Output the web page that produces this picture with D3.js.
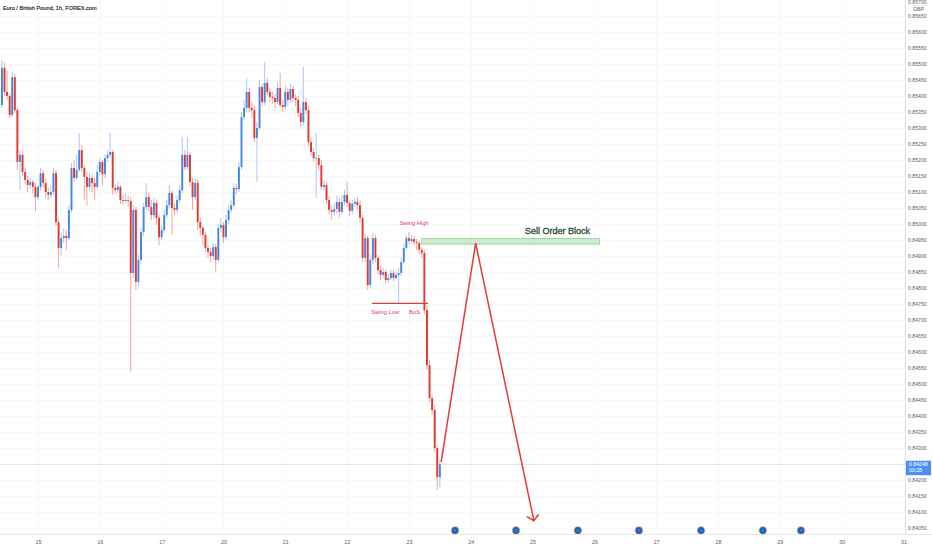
<!DOCTYPE html>
<html>
<head>
<meta charset="utf-8">
<script src="https://cdn.jsdelivr.net/npm/d3@7"></script>
<style>
  body { margin: 0; background: #fff; }
  svg { display: block; font-family: "Liberation Sans", Arial, sans-serif; }
</style>
</head>
<body>
<div id="chart"></div>
<script>
// EUR/GBP 1h candles, one per bar index (open = previous close)
const firstOpen = 0.85371;
const closes = [
  0.85487, 0.85412, 0.85399, 0.85340, 0.85458, 0.85355, 0.85193, 0.85215, 0.85162, 0.85137,
  0.85121, 0.85130, 0.85115, 0.85083, 0.85115, 0.85158, 0.85127, 0.85099, 0.85090, 0.85099,
  0.85158, 0.85005, 0.84924, 0.84955, 0.84962, 0.84955, 0.85043, 0.85174, 0.85143, 0.85168,
  0.85230, 0.85174, 0.85146, 0.85115, 0.85143, 0.85127, 0.85115, 0.85162, 0.85193, 0.85155,
  0.85205, 0.85215, 0.85224, 0.85112, 0.85105, 0.85115, 0.85074, 0.85071, 0.85074, 0.85071,
  0.84846, 0.85043, 0.84818, 0.84887, 0.84974, 0.85052, 0.85083, 0.85052, 0.85027, 0.85065,
  0.85018, 0.84958, 0.84980, 0.85027, 0.85058, 0.85096, 0.85049, 0.85043, 0.85074, 0.85105,
  0.85215, 0.85177, 0.85215, 0.85130, 0.85083, 0.85127, 0.85005, 0.84987, 0.84965, 0.84924,
  0.84912, 0.84899, 0.84927, 0.84887, 0.84987, 0.84996, 0.84958, 0.85012, 0.85043, 0.85058,
  0.85112, 0.85108, 0.85177, 0.85333, 0.85362, 0.85412, 0.85362, 0.85355, 0.85268, 0.85299,
  0.85427, 0.85380, 0.85440, 0.85412, 0.85396, 0.85393, 0.85380, 0.85424, 0.85371, 0.85365,
  0.85412, 0.85387, 0.85421, 0.85393, 0.85387, 0.85346, 0.85318, 0.85380, 0.85355, 0.85255,
  0.85224, 0.85205, 0.85205, 0.85183, 0.85115, 0.85121, 0.85074, 0.85043, 0.85037, 0.85046,
  0.85068, 0.85037, 0.85068, 0.85090, 0.85065, 0.85040, 0.85062, 0.85068, 0.85058, 0.85018,
  0.84893, 0.84955, 0.84808, 0.84887, 0.84955, 0.84893, 0.84855, 0.84840, 0.84849, 0.84824,
  0.84830, 0.84846, 0.84830, 0.84840, 0.84846, 0.84880, 0.84924, 0.84955, 0.84946, 0.84952,
  0.84943, 0.84940, 0.84918, 0.84908, 0.84730, 0.84558, 0.84455, 0.84418, 0.84299, 0.84208,
  0.84248
];
const highs = [
  0.85512, 0.85502, 0.85480, 0.85408, 0.85474, 0.85468, 0.85362, 0.85230, 0.85230, 0.85174,
  0.85149, 0.85143, 0.85137, 0.85127, 0.85121, 0.85174, 0.85168, 0.85143, 0.85112, 0.85118,
  0.85174, 0.85168, 0.85018, 0.84974, 0.84987, 0.84980, 0.85058, 0.85190, 0.85199, 0.85215,
  0.85283, 0.85246, 0.85183, 0.85162, 0.85158, 0.85152, 0.85143, 0.85183, 0.85205, 0.85199,
  0.85215, 0.85230, 0.85283, 0.85230, 0.85124, 0.85130, 0.85121, 0.85090, 0.85096, 0.85087,
  0.85083, 0.85058, 0.85052, 0.84902, 0.84987, 0.85065, 0.85127, 0.85096, 0.85074, 0.85080,
  0.85074, 0.85027, 0.84993, 0.85043, 0.85074, 0.85121, 0.85105, 0.85065, 0.85087, 0.85121,
  0.85271, 0.85230, 0.85271, 0.85224, 0.85143, 0.85143, 0.85137, 0.85018, 0.84993, 0.84974,
  0.84933, 0.84924, 0.84940, 0.84937, 0.84999, 0.85018, 0.85005, 0.85030, 0.85058, 0.85074,
  0.85127, 0.85124, 0.85193, 0.85349, 0.85387, 0.85455, 0.85424, 0.85380, 0.85368, 0.85318,
  0.85449, 0.85437, 0.85505, 0.85455, 0.85424, 0.85412, 0.85405, 0.85443, 0.85471, 0.85387,
  0.85430, 0.85424, 0.85437, 0.85430, 0.85405, 0.85399, 0.85362, 0.85490, 0.85393, 0.85368,
  0.85268, 0.85237, 0.85283, 0.85215, 0.85199, 0.85137, 0.85130, 0.85087, 0.85058, 0.85065,
  0.85087, 0.85080, 0.85090, 0.85105, 0.85130, 0.85074, 0.85074, 0.85080, 0.85083, 0.85074,
  0.85027, 0.84971, 0.84962, 0.84902, 0.84971, 0.84965, 0.84902, 0.84868, 0.84862, 0.84855,
  0.84843, 0.84855, 0.84855, 0.84852, 0.84862, 0.84893, 0.84937, 0.84965, 0.84974, 0.84965,
  0.84962, 0.84952, 0.84946, 0.84924, 0.84918, 0.84746, 0.84574, 0.84465, 0.84433, 0.84308,
  0.84262
];
const lows = [
  0.85362, 0.85402, 0.85387, 0.85330, 0.85333, 0.85346, 0.85168, 0.85105, 0.85149, 0.85124,
  0.85099, 0.85108, 0.85096, 0.85037, 0.85074, 0.85105, 0.85112, 0.85080, 0.85074, 0.85080,
  0.85090, 0.84993, 0.84862, 0.84902, 0.84940, 0.84918, 0.84949, 0.85033, 0.85130, 0.85137,
  0.85162, 0.85162, 0.85074, 0.85058, 0.85105, 0.85099, 0.85074, 0.85105, 0.85152, 0.85121,
  0.85143, 0.85193, 0.85205, 0.85090, 0.85093, 0.85096, 0.85062, 0.85058, 0.85062, 0.85055,
  0.84537, 0.84830, 0.84793, 0.84805, 0.84874, 0.84962, 0.85043, 0.85040, 0.85012, 0.85015,
  0.84996, 0.84933, 0.84949, 0.84971, 0.85018, 0.85049, 0.84965, 0.85027, 0.85033, 0.85065,
  0.85096, 0.85168, 0.85168, 0.85118, 0.85043, 0.85074, 0.84980, 0.84962, 0.84933, 0.84912,
  0.84893, 0.84880, 0.84887, 0.84849, 0.84880, 0.84974, 0.84940, 0.84949, 0.84999, 0.85033,
  0.85052, 0.85093, 0.85099, 0.85168, 0.85324, 0.85349, 0.85349, 0.85330, 0.85255, 0.85130,
  0.85293, 0.85368, 0.85371, 0.85402, 0.85380, 0.85374, 0.85362, 0.85374, 0.85362, 0.85349,
  0.85355, 0.85368, 0.85377, 0.85380, 0.85368, 0.85333, 0.85305, 0.85308, 0.85343, 0.85243,
  0.85212, 0.85193, 0.85080, 0.85168, 0.85105, 0.85105, 0.85062, 0.85030, 0.85012, 0.85024,
  0.85030, 0.85018, 0.85030, 0.85058, 0.85052, 0.85024, 0.85030, 0.85052, 0.85043, 0.85005,
  0.84880, 0.84880, 0.84793, 0.84799, 0.84874, 0.84880, 0.84843, 0.84824, 0.84830, 0.84812,
  0.84815, 0.84824, 0.84821, 0.84827, 0.84752, 0.84837, 0.84874, 0.84918, 0.84937, 0.84940,
  0.84933, 0.84918, 0.84905, 0.84893, 0.84718, 0.84543, 0.84443, 0.84405, 0.84287, 0.84168,
  0.84177
];

// time axis: day labels and the bar index where each day starts
const dayLabels = ['15', '16', '17', '20', '21', '22', '23', '24', '25', '26', '27', '28', '29', '30', '31'];
const dayBars = [14, 38, 62, 86, 110, 134, 158, 182, 206, 230, 254, 278, 302, 326, 350];

// economic event markers (bar index)
const eventBars = [175.9, 199.6, 223.6, 247.3, 271.4, 295.4, 310.2];

// drawings
const obBars = [163, 232];
const obPrices = [0.84954, 0.84936];
const bosBars = [143.7, 165.4];
const bosPrice = 0.84751;
const projBars = [170.5, 183.9, 206.5];
const projPrices = [0.84255, 0.84939, 0.84072];
const lastPrice = 0.84248;
const countdown = '00:28';

const W = 932, H = 550;
const plotRight = 905, plotBottom = 534;

const svg = d3.select('#chart').append('svg')
  .attr('width', W)
  .attr('height', H);

svg.append('rect').attr('width', W).attr('height', H).attr('fill', '#fff');

const x = d3.scaleLinear().domain([0, 350]).range([1.93, 903.5]);
const y = d3.scaleLinear().domain([0.8405, 0.8565]).range([527.7, 15.7]);

const priceTicks = d3.range(84050, 85651, 50).map(d => d / 100000);
const topTick = 0.857;

const plot = svg.append('g');

// faint grid
plot.selectAll('.hgrid')
  .data(priceTicks)
  .enter().append('line')
    .attr('x1', 0).attr('x2', plotRight)
    .attr('y1', d => Math.round(y(d)) + 0.5)
    .attr('y2', d => Math.round(y(d)) + 0.5)
    .attr('stroke', '#f7f8fa');
plot.selectAll('.vgrid')
  .data(dayBars)
  .enter().append('line')
    .attr('x1', d => Math.round(x(d)) + 0.5)
    .attr('x2', d => Math.round(x(d)) + 0.5)
    .attr('y1', 0).attr('y2', plotBottom)
    .attr('stroke', '#f7f8fa');

// last price line
plot.append('line')
  .attr('x1', 0).attr('x2', plotRight)
  .attr('y1', y(lastPrice)).attr('y2', y(lastPrice))
  .attr('stroke', '#dfe3ec')
  .attr('stroke-width', 1);

// order block
plot.append('rect')
  .attr('x', x(obBars[0]))
  .attr('y', y(obPrices[0]))
  .attr('width', x(obBars[1]) - x(obBars[0]))
  .attr('height', y(obPrices[1]) - y(obPrices[0]))
  .attr('fill', '#cfe9d0')
  .attr('stroke', '#8fcf93')
  .attr('stroke-width', 0.8);

plot.append('text')
  .attr('x', x(215.7))
  .attr('y', 234.4)
  .attr('text-anchor', 'middle')
  .attr('font-size', '9px')
  .attr('fill', '#1f4d31')
  .attr('stroke', '#1f4d31')
  .attr('stroke-width', 0.3)
  .text('Sell Order Block');

// candles
const candles = closes.map((c, i) => ({
  i: i,
  o: i === 0 ? firstOpen : closes[i - 1],
  c: c,
  h: highs[i],
  l: lows[i]
}));

const upCol = '#3f86e8', downCol = '#e2382f';

const cg = plot.append('g');
cg.selectAll('.wick')
  .data(candles)
  .enter().append('line')
    .attr('x1', d => x(d.i)).attr('x2', d => x(d.i))
    .attr('y1', d => y(d.h)).attr('y2', d => y(d.l))
    .attr('stroke', d => d.c >= d.o ? upCol : downCol)
    .attr('stroke-opacity', 0.5)
    .attr('stroke-width', 0.9);

cg.selectAll('.body')
  .data(candles)
  .enter().append('rect')
    .attr('x', d => x(d.i) - 0.95)
    .attr('width', 1.9)
    .attr('y', d => y(Math.max(d.o, d.c)))
    .attr('height', d => Math.max(0.7, Math.abs(y(d.o) - y(d.c))))
    .attr('fill', d => d.c >= d.o ? upCol : downCol);

// break of structure line
const red = '#e53935';
plot.append('line')
  .attr('x1', x(bosBars[0])).attr('x2', x(bosBars[1]))
  .attr('y1', y(bosPrice)).attr('y2', y(bosPrice))
  .attr('stroke', red)
  .attr('stroke-width', 1.3);

const pink = '#e8336b';
const labels = [
  { t: 'Swing High', b: 160.0, p: 0.85001 },
  { t: 'Swing Low', b: 148.8, p: 0.84723 },
  { t: 'BoS', b: 160.2, p: 0.84723 }
];
plot.selectAll('.lbl')
  .data(labels)
  .enter().append('text')
    .attr('x', d => x(d.b))
    .attr('y', d => y(d.p) + 2)
    .attr('text-anchor', 'middle')
    .attr('font-size', '5.8px')
    .attr('fill', pink)
    .text(d => d.t);

// projection path
const proj = projBars.map((b, k) => [x(b), y(projPrices[k])]);
plot.append('path')
  .attr('d', d3.line()(proj))
  .attr('fill', 'none')
  .attr('stroke', red)
  .attr('stroke-width', 1.5)
  .attr('stroke-linejoin', 'miter');

const tip = proj[2], prev = proj[1];
const ang = Math.atan2(prev[1] - tip[1], prev[0] - tip[0]);
const wing = 8, spread = 48 * Math.PI / 180;
const headPts = [
  [tip[0] + wing * Math.cos(ang - spread), tip[1] + wing * Math.sin(ang - spread)],
  tip,
  [tip[0] + wing * Math.cos(ang + spread), tip[1] + wing * Math.sin(ang + spread)]
];
plot.append('path')
  .attr('d', d3.line()(headPts))
  .attr('fill', 'none')
  .attr('stroke', red)
  .attr('stroke-width', 1.5);

// event markers
const ev = plot.selectAll('.ev')
  .data(eventBars)
  .enter().append('g')
    .attr('transform', d => `translate(${x(d)},530.5)`);
ev.append('circle').attr('r', 4.4).attr('fill', '#f2c879');
ev.append('circle').attr('r', 3.4).attr('fill', '#2160c2');
ev.append('circle').attr('r', 1.3).attr('fill', '#3d7ad6');

// axes
svg.append('rect')
  .attr('x', plotRight).attr('y', 0)
  .attr('width', W - plotRight).attr('height', H)
  .attr('fill', '#fff');
svg.append('line')
  .attr('x1', plotRight + 0.5).attr('x2', plotRight + 0.5)
  .attr('y1', 0).attr('y2', plotBottom)
  .attr('stroke', '#e3e6ec');
svg.append('line')
  .attr('x1', 0).attr('x2', W)
  .attr('y1', plotBottom + 0.5).attr('y2', plotBottom + 0.5)
  .attr('stroke', '#e3e6ec');

const axisFont = '"Liberation Sans", Arial, sans-serif';
const axisGrey = '#5a5e69';

const yAxis = svg.append('g')
  .attr('transform', `translate(${plotRight},0)`)
  .call(d3.axisRight(y)
    .tickValues(priceTicks)
    .tickSize(0)
    .tickPadding(3)
    .tickFormat(d3.format('.5f')));
yAxis.select('.domain').remove();
yAxis.selectAll('text')
  .attr('font-size', '5.2px')
  .attr('font-family', axisFont)
  .attr('fill', axisGrey);

// top price label sits right at the edge; keep it just inside
svg.append('text')
  .attr('x', plotRight + 3).attr('y', 4.4)
  .attr('font-size', '5.2px')
  .attr('font-family', axisFont)
  .attr('fill', axisGrey)
  .text(d3.format('.5f')(topTick));
svg.append('text')
  .attr('x', 918.5).attr('y', 10.8)
  .attr('text-anchor', 'middle')
  .attr('font-size', '5.2px')
  .attr('fill', axisGrey)
  .text('GBP');
svg.append('line')
  .attr('x1', 912).attr('x2', 925)
  .attr('y1', 5.6).attr('y2', 5.6)
  .attr('stroke', '#c9ccd4').attr('stroke-width', 0.5);

const xAxis = svg.append('g')
  .attr('transform', `translate(0,${plotBottom})`)
  .call(d3.axisBottom(x)
    .tickValues(dayBars)
    .tickSize(0)
    .tickPadding(6)
    .tickFormat((d, i) => dayLabels[i]));
xAxis.select('.domain').remove();
xAxis.selectAll('text')
  .attr('font-size', '5.4px')
  .attr('font-family', axisFont)
  .attr('fill', axisGrey);

// last price label
const tag = svg.append('g').attr('transform', `translate(${plotRight + 1},${y(lastPrice) - 3.6})`);
tag.append('rect')
  .attr('width', W - plotRight - 2).attr('height', 14.5)
  .attr('fill', '#4d8ff0');
tag.append('text')
  .attr('x', 3).attr('y', 5.6)
  .attr('font-size', '5.2px').attr('fill', '#fff')
  .text(d3.format('.5f')(lastPrice));
tag.append('text')
  .attr('x', 3).attr('y', 11.6)
  .attr('font-size', '5.2px').attr('fill', '#fff')
  .text(countdown);

// title
svg.append('text')
  .attr('x', 3).attr('y', 9.5)
  .attr('font-size', '5.6px')
  .attr('fill', '#131722')
  .attr('stroke', '#131722')
  .attr('stroke-width', 0.15)
  .text('Euro / British Pound, 1h, FOREX.com');
</script>
</body>
</html>
